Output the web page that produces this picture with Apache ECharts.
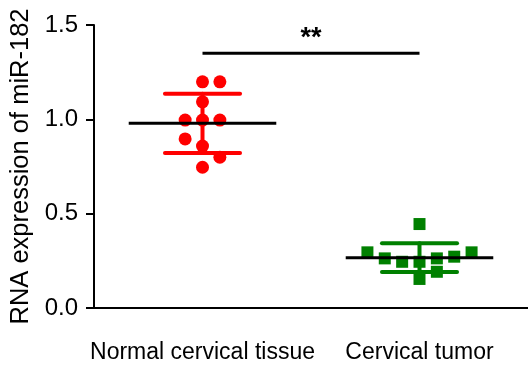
<!DOCTYPE html>
<html>
<head>
<meta charset="utf-8">
<script src="https://cdn.jsdelivr.net/npm/echarts@6/dist/echarts.min.js"></script>
<style>html,body{margin:0;padding:0;background:#fff;}#c{width:528px;height:368px;}</style>
</head>
<body>
<div id="c"></div>
<script>
// ---- data ----
const categories = ['Normal cervical tissue', 'Cervical tumor'];
const yTicks = [0.0, 0.5, 1.0, 1.5];
const normalValues = [1.199, 1.199, 1.093, 0.996, 0.996, 0.996, 0.896, 0.858, 0.799, 0.746];
const normalOffsets = [0, 0.08, 0, -0.08, 0, 0.08, -0.08, 0, 0.08, 0];
const tumorValues = [0.445, 0.295, 0.263, 0.245, 0.245, 0.154, 0.263, 0.192, 0.272, 0.295];
const tumorOffsets = [0, -0.24, -0.16, -0.08, 0, 0, 0.08, 0.08, 0.16, 0.24];
const groupMeans = [0.979, 0.267];
const groupSDs = [0.157, 0.076];
const significance = { from: 0, to: 1, y: 1.35, label: '**' };

const REG = '"Liberation Sans", Arial, sans-serif';
const colors = ['#ff0000', '#008000'];

function pts(vals, offs, gi) {
  return vals.map((v, i) => [gi + 0.5 + offs[i], v]);
}

const chart = echarts.init(document.getElementById('c'), null, { renderer: 'canvas' });

const errData = groupMeans.map((m, i) => [i + 0.5, m, groupSDs[i], i]);

chart.setOption({
  animation: false,
  backgroundColor: '#fff',
  grid: { left: 94, right: 0, top: 25, bottom: 60, containLabel: false, outerBoundsMode: 'none' },
  xAxis: [
    {
      type: 'category', data: categories, boundaryGap: true,
      axisLine: { lineStyle: { color: '#000', width: 2 } },
      axisTick: { show: false },
      axisLabel: { color: '#000', fontFamily: REG, fontSize: 23, margin: 33, interval: 0, hideOverlap: false },
      splitLine: { show: false }
    },
    {
      type: 'value', min: 0, max: 2, show: false, position: 'bottom'
    }
  ],
  yAxis: {
    type: 'value', min: 0, max: 1.5, interval: 0.5,
    name: 'RNA expression of miR-182', nameLocation: 'middle', nameGap: 58,
    nameTextStyle: { color: '#000', fontFamily: REG, fontSize: 25.5 },
    axisLine: { show: true, lineStyle: { color: '#000', width: 2 } },
    axisTick: { show: true, length: 8, lineStyle: { color: '#000', width: 2 } },
    axisLabel: { color: '#000', fontFamily: REG, fontSize: 24, margin: 16,
      formatter: v => (yTicks.indexOf(v) >= 0 ? v.toFixed(1) : '') },
    splitLine: { show: false }
  },
  series: [
    {
      type: 'scatter', xAxisIndex: 1, data: pts(normalValues, normalOffsets, 0),
      symbol: 'circle', symbolSize: 13, itemStyle: { color: colors[0], opacity: 1 }, z: 2
    },
    {
      type: 'scatter', xAxisIndex: 1, data: pts(tumorValues, tumorOffsets, 1),
      symbol: 'rect', symbolSize: 12, itemStyle: { color: colors[1], opacity: 1 }, z: 2
    },
    {
      type: 'custom', xAxisIndex: 1, z: 3, data: errData,
      renderItem: function (params, api) {
        const x = api.value(0), m = api.value(1), sd = api.value(2), gi = api.value(3);
        const c = colors[gi];
        const top = api.coord([x, m + sd]);
        const bot = api.coord([x, m - sd]);
        const capL = api.coord([x - 0.173, m + sd]);
        const capR = api.coord([x + 0.173, m + sd]);
        const capL2 = api.coord([x - 0.173, m - sd]);
        const capR2 = api.coord([x + 0.173, m - sd]);
        const mL = api.coord([x - 0.34, m]);
        const mR = api.coord([x + 0.34, m]);
        const st = { stroke: c, lineWidth: 4, lineCap: 'round' };
        return {
          type: 'group',
          children: [
            { type: 'line', shape: { x1: top[0], y1: top[1], x2: bot[0], y2: bot[1] }, style: st },
            { type: 'line', shape: { x1: capL[0], y1: capL[1], x2: capR[0], y2: capR[1] }, style: st },
            { type: 'line', shape: { x1: capL2[0], y1: capL2[1], x2: capR2[0], y2: capR2[1] }, style: st },
            { type: 'line', shape: { x1: mL[0], y1: mL[1], x2: mR[0], y2: mR[1] }, style: { stroke: '#000', lineWidth: 3 } }
          ]
        };
      }
    },
    {
      type: 'custom', xAxisIndex: 1, z: 3,
      data: [[significance.from + 0.5, significance.to + 0.5, significance.y]],
      renderItem: function (params, api) {
        const a = api.coord([api.value(0), api.value(2)]);
        const b = api.coord([api.value(1), api.value(2)]);
        return {
          type: 'group',
          children: [
            { type: 'line', shape: { x1: a[0], y1: a[1], x2: b[0], y2: b[1] }, style: { stroke: '#000', lineWidth: 3 } },
            { type: 'text', x: (a[0] + b[0]) / 2, y: a[1] - 1,
              style: { text: significance.label, fill: '#000', font: 'bold 27px ' + REG, align: 'center', verticalAlign: 'bottom' } }
          ]
        };
      }
    }
  ]
});
</script>
</body>
</html>
